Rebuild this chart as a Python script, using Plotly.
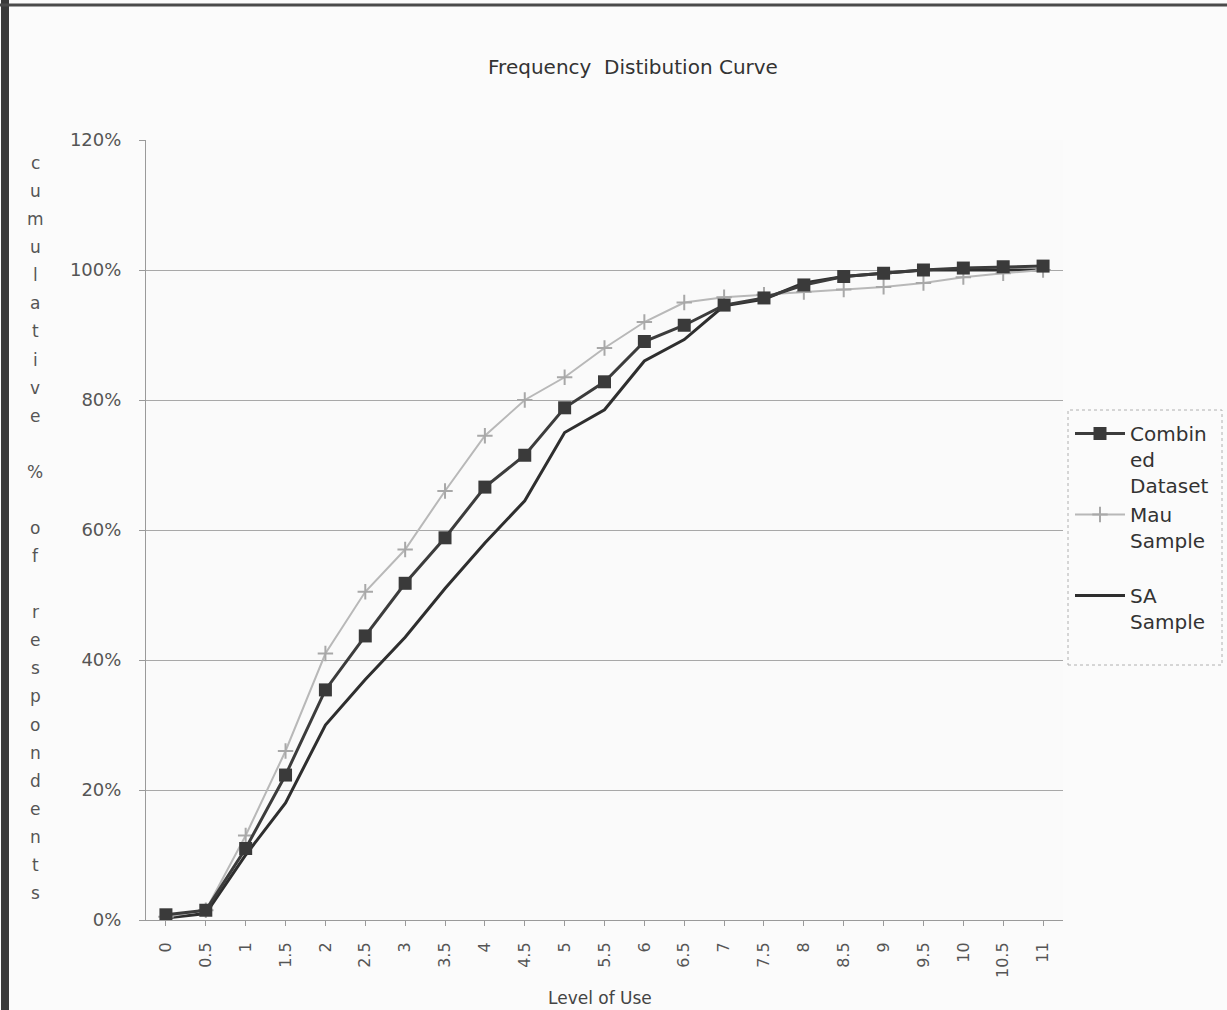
import plotly.graph_objects as go

levels = ["0", "0.5", "1", "1.5", "2", "2.5", "3", "3.5", "4", "4.5", "5", "5.5",
          "6", "6.5", "7", "7.5", "8", "8.5", "9", "9.5", "10", "10.5", "11"]

combined = [0.008, 0.015, 0.11, 0.223, 0.354, 0.437, 0.518, 0.588, 0.666, 0.715, 0.788, 0.828,
            0.89, 0.915, 0.946, 0.957, 0.977, 0.99, 0.995, 1.0, 1.003, 1.005, 1.006]
mau = [0.005, 0.015, 0.13, 0.26, 0.41, 0.505, 0.57, 0.66, 0.745, 0.80, 0.835, 0.88,
       0.92, 0.95, 0.958, 0.962, 0.966, 0.97, 0.974, 0.98, 0.989, 0.995, 1.0]
sa = [0.003, 0.01, 0.10, 0.18, 0.30, 0.37, 0.435, 0.51, 0.58, 0.645, 0.75, 0.785,
      0.86, 0.893, 0.945, 0.955, 0.98, 0.99, 0.995, 1.0, 1.0, 1.0, 1.0]

y_ticks = [0, 0.2, 0.4, 0.6, 0.8, 1.0, 1.2]
y_tick_text = ["0%", "20%", "40%", "60%", "80%", "100%", "120%"]

title_text = "Frequency  Distibution Curve"
x_title = "Level of Use"
y_title = "cumulative % of respondents"

W, H = 1227, 1010
L, R, T, B = 146, 164, 140, 90
plot_w = W - L - R
plot_h = H - T - B

def py(p):
    return (H - B - p) / plot_h

def px(p):
    return (p - L) / plot_w

FONT = "DejaVu Sans"

fig = go.Figure()
fig.add_trace(go.Scatter(
    x=levels, y=sa, name="SA<br>Sample", mode="lines",
    line=dict(color="#2e2e2e", width=3)))
fig.add_trace(go.Scatter(
    x=levels, y=mau, name="Mau<br>Sample<br> ", mode="lines+markers",
    line=dict(color="#b8b8b8", width=2),
    marker=dict(symbol="cross-thin", size=11, line=dict(color="#a8a8a8", width=2))))
fig.add_trace(go.Scatter(
    x=levels, y=combined, name="Combin<br>ed<br>Dataset", mode="lines+markers",
    line=dict(color="#3c3c3c", width=3),
    marker=dict(symbol="square", size=13, color="#3a3a3a")))

annotations = []
# stacked vertical y-axis title, one character per line
chars = list(y_title)
n = len(chars)
top_px, bot_px = 163, 893
step = (bot_px - top_px) / (n - 1)
for i, ch in enumerate(chars):
    if ch == " ":
        continue
    annotations.append(dict(
        text=ch, x=px(35), xref="paper", y=py(top_px + i * step), yref="paper",
        showarrow=False, font=dict(family=FONT, size=17, color="#555555"),
        xanchor="center", yanchor="middle"))

annotations.append(dict(
    text=x_title, x=px(600), xref="paper", y=py(998), yref="paper",
    showarrow=False, font=dict(family=FONT, size=17, color="#444444"),
    xanchor="center", yanchor="middle"))

fig.update_layout(
    width=W, height=H,
    margin=dict(l=L, r=R, t=T, b=B),
    paper_bgcolor="#fbfbfb", plot_bgcolor="#fafafa",
    title=dict(text=title_text, x=633 / W, xanchor="center", y=1 - 67 / H, yanchor="middle",
               font=dict(family=FONT, size=20, color="#333333")),
    font=dict(family=FONT, color="#555555"),
    showlegend=True,
    legend=dict(x=px(1070), y=py(414), xanchor="left", yanchor="top",
                traceorder="reversed", valign="top", itemwidth=50,
                font=dict(family=FONT, size=20, color="#333333"),
                bgcolor="rgba(0,0,0,0)", tracegroupgap=0),
    annotations=annotations,
    shapes=[
        dict(type="rect", xref="paper", yref="paper",
             x0=px(1068), x1=px(1222),
             y0=py(665), y1=py(410), line=dict(color="#b0b0b0", width=1, dash="dot")),
        dict(type="line", xref="paper", yref="paper",
             x0=px(5), x1=px(5), y0=py(0), y1=py(H),
             line=dict(color="#3a3a3a", width=8)),
        dict(type="line", xref="paper", yref="paper",
             x0=px(0), x1=px(W), y0=py(5), y1=py(5),
             line=dict(color="#4a4a4a", width=3)),
    ],
)

fig.update_xaxes(
    type="category", tickangle=-90, showgrid=False,
    showline=True, linecolor="#9a9a9a", linewidth=1,
    ticks="outside", ticklen=5, tickcolor="#9a9a9a",
    ticklabelstandoff=10,
    tickfont=dict(family=FONT, size=16, color="#555555"),
    range=[-0.5, len(levels) - 0.5])
fig.update_yaxes(
    range=[0, 1.2], tickvals=y_ticks, ticktext=y_tick_text,
    showgrid=True, gridcolor="#a8a8a8", gridwidth=1,
    showline=True, linecolor="#9a9a9a", linewidth=1,
    ticks="outside", ticklen=6, tickcolor="#9a9a9a",
    ticklabelstandoff=14,
    tickfont=dict(family=FONT, size=18, color="#555555"),
    zeroline=False)

fig.write_html("out.html")
